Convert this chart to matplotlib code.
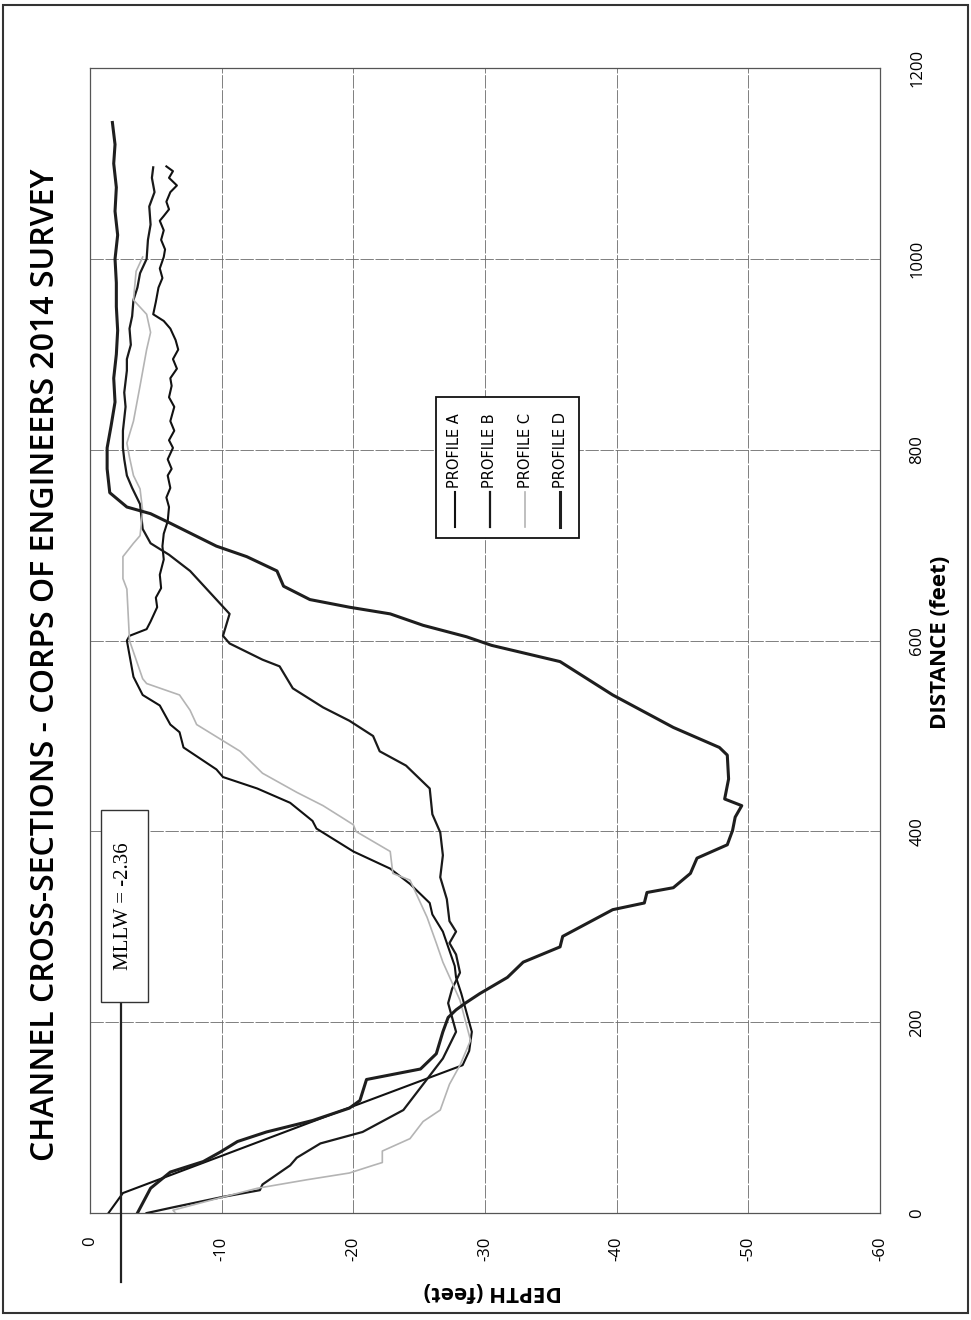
import matplotlib
matplotlib.use("Agg")
import matplotlib.pyplot as plt
from matplotlib.patches import Rectangle
from matplotlib import transforms

plt.rcParams['font.family'] = ['Open Sans', 'DejaVu Sans']

# ---- data (distance in feet, depth in feet) ----
dist_a = [1097, 1092, 1085, 1077, 1070, 1060, 1052, 1045, 1040, 1030, 1020, 1010, 1002, 990, 980, 970,
          955, 942, 935, 927, 915, 905, 895, 885, 875, 867, 855, 845, 830, 820, 810, 802, 790, 780, 773,
          760, 750, 740, 725, 712, 699, 685, 669, 655, 645, 635, 620, 612, 605, 600, 562, 543, 532, 512,
          504, 488, 465, 457, 445, 430, 411, 403, 379, 361, 345, 325, 313, 295, 275, 259, 247, 230, 210,
          190, 170, 155, 110, 60, 21, 0]
depth_a = [-5.8, -6.3, -6.0, -6.6, -6.1, -5.8, -6.0, -5.6, -5.3, -5.6, -5.4, -5.7, -5.6, -5.3, -5.5,
           -5.2, -5.0, -4.8, -5.6, -6.1, -6.5, -6.7, -6.3, -6.6, -6.1, -6.2, -6.0, -6.4, -6.1, -6.4, -6.0,
           -6.3, -5.9, -6.2, -5.9, -6.1, -5.8, -6.0, -5.9, -5.6, -5.5, -5.6, -5.3, -5.4, -5.0, -5.1, -4.6,
           -4.3, -3.0, -2.8, -3.3, -4.0, -5.3, -6.1, -6.8, -7.1, -9.6, -10.1, -12.7, -15.2, -16.9, -17.2,
           -20.0, -22.8, -24.3, -25.8, -26.0, -26.8, -27.3, -27.7, -27.8, -28.2, -28.6, -29.0, -28.8,
           -28.3, -19.6, -10.0, -2.5, -1.4]

dist_b = [1096, 1085, 1070, 1055, 1036, 1020, 1000, 985, 970, 957, 940, 927, 910, 895, 883, 860, 845,
          820, 802, 790, 773, 760, 743, 730, 717, 702, 690, 673, 643, 628, 605, 597, 580, 573, 550, 530,
          516, 500, 484, 469, 445, 418, 399, 375, 352, 329, 306, 295, 283, 271, 252, 235, 220, 205, 190,
          162, 135, 108, 85, 73, 58, 50, 30, 24, 17, 6, 0]
depth_b = [-4.8, -4.7, -4.9, -4.5, -4.6, -4.4, -4.3, -3.8, -3.6, -3.3, -3.2, -3.0, -3.1, -2.8, -2.8,
           -2.6, -2.7, -2.5, -2.5, -2.6, -2.8, -3.2, -3.8, -3.9, -4.0, -4.6, -6.0, -7.6, -9.6, -10.6,
           -10.1, -10.6, -13.1, -14.4, -15.4, -17.7, -19.7, -21.5, -22.0, -24.0, -25.8, -26.0, -26.6,
           -26.8, -26.6, -27.1, -27.3, -27.8, -27.3, -27.8, -28.1, -27.5, -27.2, -27.5, -27.8, -26.8,
           -25.3, -23.8, -20.7, -17.5, -15.7, -15.2, -13.1, -12.9, -10.1, -6.3, -4.3]

dist_c = [1002, 987, 957, 942, 923, 905, 867, 830, 807, 792, 773, 759, 736, 710, 702, 688, 665, 654,
          600, 560, 555, 543, 527, 512, 484, 461, 441, 427, 414, 407, 400, 379, 356, 349, 310, 283, 263,
          223, 181, 155, 135, 108, 96, 78, 65, 53, 50, 42, 35, 26, 15, 3, 0]
depth_c = [-4.0, -3.5, -3.3, -4.3, -4.6, -4.3, -3.8, -3.3, -2.8, -3.0, -3.3, -3.8, -4.0, -3.8, -3.3,
           -2.5, -2.5, -2.8, -3.0, -4.0, -4.3, -6.8, -7.6, -8.1, -11.4, -13.1, -15.7, -17.7, -19.2,
           -20.0, -20.2, -22.8, -23.0, -24.3, -25.6, -26.3, -26.8, -28.1, -28.9, -28.1, -27.3, -26.6,
           -25.3, -24.3, -22.2, -22.2, -21.5, -19.7, -16.5, -12.7, -9.6, -6.3, -6.5]

dist_d = [1143, 1120, 1100, 1075, 1050, 1025, 1000, 975, 950, 925, 900, 875, 850, 825, 802, 780, 755,
          740, 733, 723, 699, 688, 673, 657, 643, 635, 628, 616, 604, 595, 578, 543, 509, 488, 480, 455,
          434, 427, 415, 401, 386, 372, 356, 341, 336, 325, 318, 290, 279, 263, 247, 230, 220, 213, 205,
          190, 167, 151, 140, 118, 110, 97, 85, 75, 64, 54, 43, 26, 0]
depth_d = [-1.7, -1.9, -1.8, -2.0, -1.9, -2.1, -1.9, -2.0, -2.0, -2.1, -2.0, -1.8, -1.9, -1.6, -1.3,
           -1.3, -1.5, -2.8, -4.6, -6.1, -9.6, -11.9, -14.2, -14.7, -16.7, -19.7, -22.8, -25.3, -28.6,
           -30.5, -35.7, -39.7, -44.3, -47.8, -48.4, -48.5, -48.2, -49.5, -49.0, -48.8, -48.4, -46.1,
           -45.6, -44.3, -42.3, -42.1, -39.7, -35.9, -35.7, -32.9, -31.7, -29.6, -28.5, -27.8, -27.2,
           -26.8, -26.3, -25.1, -21.0, -20.5, -19.7, -16.9, -13.4, -11.2, -9.9, -8.6, -6.1, -4.6, -3.6]

profile_names = ['PROFILE A', 'PROFILE B', 'PROFILE C', 'PROFILE D']
profile_colors = ['#111111', '#1a1a1a', '#b4b4b4', '#1e1e1e']
profile_widths = [1.5, 1.6, 1.2, 2.2]

depth_ticks = [0, -10, -20, -30, -40, -50, -60]
dist_ticks = [0, 200, 400, 600, 800, 1000, 1200]
mllw = -2.36

# ---- figure (chart drawn turned on its side) ----
fig = plt.figure(figsize=(9.71, 13.2), dpi=100)
ax = fig.add_axes([0.0927, 0.081, 0.8136, 0.8674])

profiles = [(depth_a, dist_a), (depth_b, dist_b), (depth_c, dist_c), (depth_d, dist_d)]
for (dep, dis), col, lw in zip(profiles, profile_colors, profile_widths):
    ax.plot(dep, dis, color=col, lw=lw, zorder=3)

ax.set_xlim(0, -60)
ax.set_ylim(0, 1200)
ax.set_xticks(depth_ticks)
ax.set_xticklabels([str(t) for t in depth_ticks])
ax.set_yticks(dist_ticks)
ax.set_yticklabels([str(t) for t in dist_ticks])
ax.yaxis.tick_right()
ax.tick_params(axis='x', labelrotation=90, length=0, pad=17, labelsize=12)
ax.tick_params(axis='y', labelrotation=90, length=0, pad=21, labelsize=12)
for lab in ax.get_yticklabels():
    lab.set_verticalalignment('center')

ax.grid(True, color='#6a6a6a', lw=0.6, ls=(0, (16, 2)))
for sp in ax.spines.values():
    sp.set_color('#555555')
    sp.set_linewidth(0.9)

# MLLW marker
blend = transforms.blended_transform_factory(ax.transData, ax.transAxes)
ax.plot([mllw, mllw], [-0.06, 0.184], transform=blend, color='#222222', lw=1.6, clip_on=False, zorder=4)
ax.add_patch(Rectangle((0.014, 0.184), 0.0595, 0.168, transform=ax.transAxes,
                       facecolor='white', edgecolor='#333333', lw=1.0, zorder=5))
ax.text(0.043, 0.268, f'MLLW = {mllw}', transform=ax.transAxes, rotation=90,
        ha='center', va='center', family=['Liberation Serif', 'DejaVu Serif'], fontsize=15, zorder=6)

# legend built by hand so it can be turned with the chart
ax.add_patch(Rectangle((0.438, 0.590), 0.181, 0.123, transform=ax.transAxes,
                       facecolor='white', edgecolor='#111111', lw=1.3, zorder=5))
leg_x = [0.462, 0.506, 0.551, 0.595]
for x, name, col, lw in zip(leg_x, profile_names, profile_colors, profile_widths):
    ax.plot([x, x], [0.599, 0.630], transform=ax.transAxes, color=col, lw=lw, zorder=6)
    ax.text(x, 0.633, name, transform=ax.transAxes, rotation=90, ha='center', va='bottom',
            family=['Liberation Sans Narrow', 'DejaVu Sans'], fontsize=10.5, zorder=6)

# titles
fig.text(46 / 971, 1 - 665 / 1320, 'CHANNEL CROSS-SECTIONS - CORPS OF ENGINEERS 2014 SURVEY',
         rotation=90, ha='center', va='center', fontsize=23, fontweight='semibold')
fig.text(940 / 971, 1 - 642 / 1320, 'DISTANCE (feet)', rotation=90, ha='center', va='center',
         fontsize=16, fontweight='bold')
fig.text(493 / 971, 1 - 1292 / 1320, 'DEPTH (feet)', rotation=180, ha='center', va='center',
         fontsize=16, fontweight='bold')

fig.patches.append(Rectangle((0.003, 0.005), 0.994, 0.991, transform=fig.transFigure,
                             fill=False, edgecolor='#333333', lw=1.5))

fig.savefig('out.png', dpi=100)
